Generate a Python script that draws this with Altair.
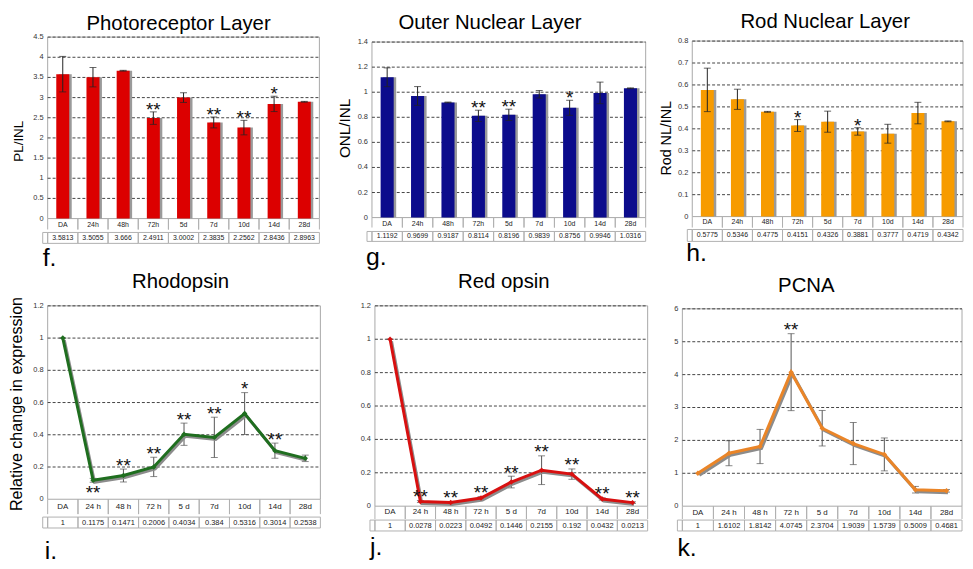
import altair as alt
import pandas as pd

FONT = "Liberation Sans"

cats_top = ["DA", "24h", "48h", "72h", "5d", "7d", "10d", "14d", "28d"]
cats_bottom = ["DA", "24 h", "48 h", "72 h", "5 d", "7d", "10d", "14d", "28d"]

pl_values = [3.5813, 3.5055, 3.666, 2.4911, 3.0002, 2.3835, 2.2562, 2.8436, 2.8963]
pl_errors = [0.44, 0.24, 0.01, 0.155, 0.12, 0.135, 0.18, 0.19, 0.01]
pl_stars = ["", "", "", "**", "", "**", "**", "*", ""]
pl_ticks = [0, 0.5, 1, 1.5, 2, 2.5, 3, 3.5, 4, 4.5]

onl_values = [1.1192, 0.9699, 0.9187, 0.8114, 0.8196, 0.9839, 0.8756, 0.9946, 1.0316]
onl_errors = [0.075, 0.075, 0.003, 0.045, 0.045, 0.03, 0.06, 0.086, 0.003]
onl_stars = ["", "", "", "**", "**", "", "*", "", ""]
onl_ticks = [0, 0.2, 0.4, 0.6, 0.8, 1, 1.2, 1.4]

rod_values = [0.5775, 0.5346, 0.4775, 0.4151, 0.4326, 0.3881, 0.3777, 0.4719, 0.4342]
rod_errors = [0.099, 0.046, 0.002, 0.027, 0.048, 0.017, 0.043, 0.049, 0.002]
rod_stars = ["", "", "", "*", "", "*", "", "", ""]
rod_ticks = [0, 0.1, 0.2, 0.3, 0.4, 0.5, 0.6, 0.7, 0.8]

rho_values = [1, 0.1175, 0.1471, 0.2006, 0.4034, 0.384, 0.5316, 0.3014, 0.2538]
rho_errors = [0, 0.012, 0.04, 0.06, 0.069, 0.125, 0.13, 0.047, 0.02]
rho_stars = ["", "**", "**", "**", "**", "**", "*", "**", ""]
rho_below = [False, True, False, False, False, False, False, False, False]
rho_ticks = [0, 0.2, 0.4, 0.6, 0.8, 1, 1.2]

red_values = [1, 0.0278, 0.0223, 0.0492, 0.1446, 0.2155, 0.192, 0.0432, 0.0213]
red_errors = [0, 0.006, 0.005, 0.008, 0.035, 0.086, 0.031, 0.007, 0.005]
red_stars = ["", "**", "**", "**", "**", "**", "**", "**", "**"]
red_ticks = [0, 0.2, 0.4, 0.6, 0.8, 1, 1.2]

pcna_values = [1, 1.6102, 1.8142, 4.0745, 2.3704, 1.9039, 1.5739, 0.5009, 0.4681]
pcna_errors = [0, 0.38, 0.52, 1.17, 0.54, 0.64, 0.5, 0.1, 0.04]
pcna_stars = ["", "", "", "**", "", "", "", "", ""]
pcna_ticks = [0, 1, 2, 3, 4, 5, 6]

GREY = "#b0b0b0"


def make_df(cats, vals, errs, stars, below=None):
    below = below or [False] * len(cats)
    return pd.DataFrame({
        "idx": list(range(len(cats))),
        "cat": cats,
        "val": vals,
        "lo": [v - e for v, e in zip(vals, errs)],
        "hi": [v + e for v, e in zip(vals, errs)],
        "sig": stars,
        "pos": ["below" if b else "above" for b in below],
        "label": [f"{v:g}" for v in vals],
    })


def one_text(text, x, y, size, angle=0, align="center", baseline="alphabetic"):
    return (alt.Chart(pd.DataFrame({"t": [text]}))
            .mark_text(font=FONT, fontSize=size, angle=angle, align=align,
                       baseline=baseline, color="#000000")
            .encode(x=alt.value(x), y=alt.value(y), text="t:N"))


def panel(kind, cats, df, ticks, color, box, title, tpos, letter, lpos, tbl, ytitle=None):
    x0, x1, y0, y1 = box
    cat_y, sep_len, row_top, row_bot, val_y, cat_fs, val_fs = tbl
    xsc = alt.Scale(domain=cats, range=[x0, x1], paddingInner=0, paddingOuter=0)
    ysc = alt.Scale(domain=[0, ticks[-1]], range=[y1, y0], nice=False)
    xenc = alt.X("cat:N", scale=xsc, axis=None)
    yval = alt.Y("val:Q", scale=ysc, axis=None)
    ylo = alt.Y("lo:Q", scale=ysc, axis=None)
    yhi = alt.Y("hi:Q", scale=ysc, axis=None)
    base = alt.Chart(df)
    tdf = pd.DataFrame({"t": ticks, "lab": [f"{t:g}" for t in ticks]})
    tenc = alt.Y("t:Q", scale=ysc, axis=None)
    layers = []
    frame = pd.DataFrame({"f": [0]})
    # plot frame
    layers.append(alt.Chart(frame).mark_rect(fill="white", fillOpacity=0, stroke="#a8a8a8",
                                             strokeWidth=1)
                  .encode(x=alt.value(x0), x2=alt.value(x1), y=alt.value(y0), y2=alt.value(y1)))
    # dashed grid lines and y labels
    layers.append(alt.Chart(tdf).transform_filter("datum.t > 0")
                  .mark_rule(color="#444444", strokeWidth=1, strokeDash=[3, 2])
                  .encode(y=tenc, x=alt.value(x0), x2=alt.value(x1)))
    layers.append(alt.Chart(tdf).mark_text(font=FONT, fontSize=7.5, align="right",
                                           baseline="middle", color="#333333")
                  .encode(y=tenc, x=alt.value(x0 - 4), text="lab:N"))
    if kind == "bar":
        ecol = "#222222"
        star_dy = 4
        layers.append(base.mark_bar(color="#9a9a9a", width={"band": 0.43}, xOffset=2.5)
                      .encode(x=xenc, y=yval))
        layers.append(base.mark_bar(color=color, width={"band": 0.43})
                      .encode(x=xenc, y=yval))
        layers.append(base.mark_rule(color=ecol, strokeWidth=1)
                      .encode(x=xenc, y=ylo, y2="hi:Q"))
        layers.append(base.mark_tick(color=ecol, thickness=1, size=7).encode(x=xenc, y=ylo))
        layers.append(base.mark_tick(color=ecol, thickness=1, size=7).encode(x=xenc, y=yhi))
    else:
        ecol = "#555555"
        star_dy = 2.5
        layers.append(base.mark_rule(color=ecol, strokeWidth=1)
                      .encode(x=xenc, y=ylo, y2="hi:Q"))
        layers.append(base.mark_tick(color=ecol, thickness=1, size=7).encode(x=xenc, y=ylo))
        layers.append(base.mark_tick(color=ecol, thickness=1, size=7).encode(x=xenc, y=yhi))
        layers.append(base.mark_line(color="#8c8c8c", strokeWidth=3, xOffset=1.5, yOffset=2)
                      .encode(x=xenc, y=yval, order="idx:Q"))
        layers.append(base.mark_line(color=color, strokeWidth=3)
                      .encode(x=xenc, y=yval, order="idx:Q"))
        layers.append(base.mark_point(shape="diamond", filled=True, size=30, color=color,
                                      opacity=1)
                      .encode(x=xenc, y=yval))
    # significance stars
    layers.append(base.transform_filter("datum.pos == 'above'")
                  .mark_text(font=FONT, fontSize=19, baseline="alphabetic", dy=star_dy,
                             color="#111111")
                  .encode(x=xenc, y=yhi, text="sig:N"))
    layers.append(base.transform_filter("datum.pos == 'below'")
                  .mark_text(font=FONT, fontSize=19, baseline="alphabetic", dy=17,
                             color="#111111")
                  .encode(x=xenc, y=ylo, text="sig:N"))
    # data table under the plot
    for bp in (0, 1):
        layers.append(base.mark_rule(color=GREY, strokeWidth=1).encode(
            x=alt.X("cat:N", scale=xsc, axis=None, bandPosition=bp),
            y=alt.value(y1), y2=alt.value(y1 + sep_len)))
    layers.append(base.mark_text(font=FONT, fontSize=cat_fs, baseline="middle",
                                 color="#222222")
                  .encode(x=xenc, y=alt.value(y1 + cat_y), text="cat:N"))
    layers.append(base.mark_rect(fill="white", fillOpacity=0, stroke=GREY, strokeWidth=1)
                  .encode(x=xenc, y=alt.value(y1 + row_top), y2=alt.value(y1 + row_bot)))
    layers.append(base.mark_text(font=FONT, fontSize=val_fs, baseline="middle",
                                 color="#222222")
                  .encode(x=xenc, y=alt.value(y1 + val_y), text="label:N"))
    layers.append(alt.Chart(frame).mark_rect(fill="white", fillOpacity=0, stroke=GREY,
                                             strokeWidth=1)
                  .encode(x=alt.value(x0 - 5), x2=alt.value(x0),
                          y=alt.value(y1 + row_top), y2=alt.value(y1 + row_bot)))
    # title, panel letter, y-axis title
    layers.append(one_text(title, tpos[0], tpos[1], 20.5))
    layers.append(one_text(letter, lpos[0], lpos[1], 25, align="left"))
    if ytitle:
        layers.append(one_text(ytitle[0], ytitle[1], ytitle[2], ytitle[3], angle=270,
                               baseline="middle"))
    return layers


TOP_TBL_F = (6, 11, 14, 25, 19.5, 7, 7)
TOP_TBL_G = (6, 10, 14, 24, 19, 7, 7)
TOP_TBL_H = (5, 11, 13, 25, 19, 7, 7)

layers = []
layers += panel("bar", cats_top, make_df(cats_top, pl_values, pl_errors, pl_stars), pl_ticks,
                "#dc0000", (40, 314, 27, 210), "Photoreceptor Layer", (172, 20),
                "f.", (35, 258), TOP_TBL_F, ytitle=("PL/INL", 11.5, 132, 13.5))
layers += panel("bar", cats_top, make_df(cats_top, onl_values, onl_errors, onl_stars), onl_ticks,
                "#0c0c8c", (367, 643, 32, 209), "Outer Nuclear Layer", (486, 19),
                "g.", (361, 257), TOP_TBL_G, ytitle=("ONL/INL", 339.5, 119, 15.4))
layers += panel("bar", cats_top, make_df(cats_top, rod_values, rod_errors, rod_stars), rod_ticks,
                "#f79b00", (690, 963, 31, 208), "Rod Nuclear Layer", (824, 18),
                "h.", (684, 253), TOP_TBL_H, ytitle=("Rod NL/INL", 664.5, 129, 14.4))
layers += panel("line", cats_bottom,
                make_df(cats_bottom, rho_values, rho_errors, rho_stars, rho_below), rho_ticks,
                "#1f6e1f", (40, 315, 298, 493), "Rhodopsin", (174, 280),
                "i.", (37, 553), (8, 15, 18, 29, 24, 8, 7.5),
                ytitle=("Relative change in expression", 9.5, 397, 16.2))
layers += panel("line", cats_bottom, make_df(cats_bottom, red_values, red_errors, red_stars),
                red_ticks, "#d81010", (370, 645, 298, 500), "Red opsin", (500, 280),
                "j.", (365, 549), (6, 13, 14, 25, 19.5, 8, 7.5))
layers += panel("line", cats_bottom, make_df(cats_bottom, pcna_values, pcna_errors, pcna_stars),
                pcna_ticks, "#ea8528", (680, 962, 301, 500), "PCNA", (805, 284),
                "k.", (675, 550), (7, 13, 14, 25, 19.5, 8, 7.5))

chart = (alt.layer(*layers)
         .resolve_scale(x="independent", y="independent")
         .properties(width=965, height=561, padding=0, background="white",
                     autosize=alt.AutoSizeParams(type="none"))
         .configure(font=FONT)
         .configure_view(strokeWidth=0))

chart.save("out.html", embed_options={"renderer": "svg", "actions": False})
